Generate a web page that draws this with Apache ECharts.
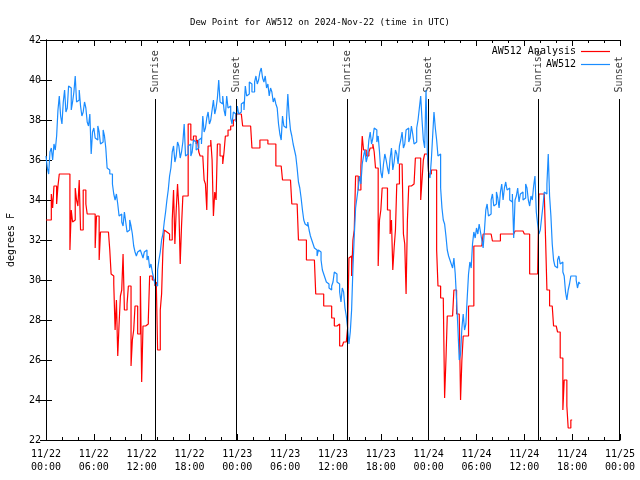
<!DOCTYPE html>
<html><head><meta charset="utf-8">
<script src="https://cdn.jsdelivr.net/npm/echarts@6/dist/echarts.min.js"></script>
<style>html,body{margin:0;padding:0;background:#fff}#c{width:640px;height:480px}</style>
</head><body><div id="c"></div>
<script>
// ---- data (hours since 2024-11-22 00:00 UTC, 10-minute steps) ----
const stepHours = 1 / 6;
const startDay = 22;
const titleText = 'Dew Point for AW512 on 2024-Nov-22 (time in UTC)';
const seriesNames = ['AW512 Analysis', 'AW512'];
// AW512 observations (deg F), one row per hour
const obsDew = [
  36.2,35.6,35.3,36.4,36.6,36.0, 36.8,36.5,37.2,38.5,39.2,38.2, 37.8,38.9,39.5,38.4,38.6,39.7,
  39.6,38.5,38.9,39.4,40.2,38.9, 39.0,39.5,38.7,38.2,38.4,38.9, 38.6,37.9,37.7,38.3,36.3,37.4,
  37.6,37.1,37.0,37.7,37.4,36.8, 36.9,37.5,37.2,36.6,35.6,35.5, 35.3,35.3,34.8,34.3,34.0,34.3,
  33.8,33.2,33.3,32.9,32.7,33.4, 32.9,32.4,32.5,33.0,32.7,32.3, 31.7,31.4,31.2,31.4,31.5,31.6,
  31.3,31.1,31.4,31.5,31.0,31.2, 30.6,30.8,30.4,30.1,29.8,29.7, 30.5,31.0,31.4,32.0,32.3,32.9,
  33.4,34.0,34.5,35.2,35.6,36.4, 36.7,35.9,36.2,36.9,36.7,36.1, 36.4,36.9,37.8,36.2,36.3,36.7,
  36.8,36.2,36.4,37.0,36.9,36.5, 36.6,37.0,37.1,36.8,38.2,37.4, 37.6,38.1,38.4,37.8,38.0,38.5,
  39.0,38.3,38.6,39.1,40.0,38.9, 38.8,39.2,38.5,38.2,39.2,38.6, 38.7,38.1,37.8,38.4,38.3,37.9,
  38.7,38.3,38.4,38.8,38.9,38.5, 39.7,39.2,39.3,39.9,39.8,39.4, 39.4,39.9,40.2,39.8,40.0,40.4,
  40.6,40.1,39.9,40.2,39.6,39.8, 39.2,39.6,39.4,38.9,39.1,38.8, 38.6,37.8,37.3,37.0,38.2,37.7,
  37.6,38.0,39.3,38.2,37.5,37.2, 36.8,36.5,36.2,35.6,34.9,34.6, 34.1,33.5,33.0,32.8,32.7,32.9,
  32.5,32.2,32.0,31.8,31.6,31.5, 31.2,31.5,31.4,31.0,30.5,30.3, 30.1,29.9,29.8,29.6,29.5,29.7,
  29.9,30.4,30.3,29.9,29.8,29.4, 28.9,29.6,29.4,28.6,28.2,27.6, 26.8,27.4,28.5,30.6,32.2,33.6,
  34.1,34.6,35.2,34.8,35.8,36.2, 36.5,35.9,36.2,37.0,37.4,36.8, 37.1,37.6,37.5,36.9,37.2,36.4,
  35.4,35.1,35.8,36.3,36.0,35.6, 35.3,36.1,36.6,35.5,35.9,36.5, 36.3,35.8,36.7,37.0,37.4,36.6,
  36.8,37.5,37.6,36.9,37.1,37.7, 37.3,36.8,36.9,37.6,38.0,38.6, 39.2,38.0,37.0,36.6,39.5,36.4,
  35.3,35.1,36.0,37.2,38.4,37.6, 37.0,36.2,36.3,34.6,33.6,33.0, 32.8,32.2,31.5,31.2,31.0,30.8,
  30.6,31.1,30.3,29.0,27.6,26.0, 26.3,27.6,28.3,27.5,27.8,29.1, 30.3,30.9,30.6,31.8,32.4,32.1,
  32.6,32.3,32.8,32.4,32.0,31.6, 32.5,33.5,33.8,33.2,33.3,34.0, 34.3,33.7,33.8,34.4,34.1,33.6,
  34.4,34.8,34.0,34.6,34.9,34.5, 34.6,34.0,33.9,34.3,32.1,34.0, 34.2,34.6,33.9,34.3,34.4,34.0,
  34.1,34.8,34.6,34.0,33.7,34.2, 34.0,34.7,35.2,33.4,32.8,32.3, 32.5,33.1,33.7,34.4,34.3,34.8,
  36.3,34.2,33.2,31.8,31.0,30.7, 30.6,31.0,31.2,30.8,30.9,30.4, 30.2,29.4,29.0,29.5,29.8,30.2,
  30.2,30.2,30.2,30.0,29.6,29.9, 29.8
];
// AW512 Analysis (deg F), one row per hour
const anaDew = [
  33.0,33.0,33.0,33.0,34.3,33.6, 34.7,34.7,33.8,34.7,35.3,35.3, 35.3,35.3,35.3,35.3,35.3,35.3,
  31.5,33.5,32.9,33.0,34.6,34.0, 33.7,35.0,32.5,32.5,34.5,34.5, 33.8,33.3,33.3,33.3,33.3,33.3,
  33.3,31.6,33.2,33.2,31.0,32.4, 32.4,32.4,32.4,32.5,32.4,32.4, 31.5,30.3,30.2,29.8,27.5,29.0,
  26.2,27.8,29.2,29.5,31.3,28.5, 28.5,28.8,29.7,29.7,25.7,27.0, 27.5,28.7,28.7,27.3,27.3,30.2,
  24.9,27.7,27.7,27.7,27.8,28.0, 30.2,30.2,30.0,30.0,29.7,29.9, 26.5,26.5,28.5,29.3,31.5,32.5,
  32.4,32.3,32.3,32.0,32.0,33.0, 34.5,31.8,33.5,34.8,33.6,30.8, 32.7,34.2,34.2,34.2,34.2,37.8,
  37.8,37.0,37.0,37.2,37.2,36.8, 37.0,36.4,36.2,36.2,36.3,35.0, 34.8,33.5,36.7,36.7,37.0,36.0,
  33.2,34.4,34.0,36.8,36.8,36.2, 36.2,35.8,36.4,37.2,37.2,37.5, 37.5,37.7,37.7,38.0,38.0,38.3,
  38.3,38.3,38.3,38.3,37.7,37.7, 37.7,37.7,37.7,37.7,37.7,36.6, 36.6,36.6,36.6,36.6,36.6,37.0,
  37.0,37.0,37.0,37.0,37.0,36.8, 36.8,36.8,36.8,36.8,36.8,35.7, 35.7,35.7,35.7,35.7,35.0,35.0,
  35.0,35.0,35.0,35.0,35.0,33.8, 33.8,33.8,33.8,33.8,32.0,32.0, 32.0,32.0,32.0,32.0,31.0,31.0,
  31.0,31.0,31.0,31.0,31.0,29.3, 29.3,29.3,29.3,29.3,29.3,28.7, 28.7,28.7,28.7,28.7,28.7,28.1,
  28.1,27.7,27.7,27.7,27.8,26.7, 26.7,26.7,26.9,26.9,26.9,27.6, 31.1,31.2,30.2,32.0,32.5,35.2,
  35.2,34.5,34.5,35.7,37.2,36.5, 36.5,36.2,36.2,36.4,36.6,36.6, 36.8,36.4,35.6,35.6,30.7,33.0,
  33.5,34.6,34.6,34.6,34.6,33.5, 33.5,32.3,33.0,30.5,31.6,32.5, 34.8,34.8,35.8,35.8,35.8,32.3,
  31.8,29.3,33.0,34.7,34.7,34.8, 34.8,34.8,36.1,36.1,36.1,36.1, 34.0,35.0,36.0,36.3,36.3,36.3,
  35.3,35.3,35.5,35.5,35.5,35.5, 31.5,29.7,29.7,29.1,29.1,29.1, 24.1,26.0,28.2,28.2,28.2,28.2,
  28.2,29.5,29.5,28.3,28.3,28.3, 24.0,26.0,27.2,27.2,27.2,27.2, 28.7,28.7,28.7,28.7,31.7,31.7,
  31.7,31.7,31.7,31.7,31.7,32.3, 32.3,32.3,32.3,32.3,32.3,32.3, 31.95,31.95,31.95,31.95,31.95,31.95,
  32.3,32.3,32.3,32.3,32.3,32.3, 32.3,32.3,32.3,32.3,32.3,32.45, 32.45,32.45,32.45,32.45,32.45,32.45,
  32.3,32.3,32.3,32.3,30.3,30.3, 30.3,30.3,30.3,30.3,30.3,34.3, 34.3,34.3,34.3,34.3,32.0,29.5,
  29.5,28.7,28.7,28.7,27.7,27.7, 27.7,27.4,27.4,26.1,26.1,23.5, 25.0,25.0,23.7,22.6,22.6,23.0,
  23.0
];
// Sunrise / sunset times (hours)
const eventHours = [13.72, 23.92, 37.8, 48.0, 61.75, 71.9];
const eventNames = ['Sunrise', 'Sunset', 'Sunrise', 'Sunset', 'Sunrise', 'Sunset'];
const eventLineTop = 39.05;
const eventLabelBase = 39.38;

// ---- chart ----
const FONT = 'DejaVu Sans Mono';
const obsData = obsDew.map((v, i) => [i * stepHours, v]);
const anaData = anaDew.map((v, i) => [i * stepHours, v]);
function xLabel(h) {
  const d = startDay + Math.floor(h / 24);
  const hh = h % 24;
  return '11/' + d + '\n' + String(hh).padStart(2, '0') + ':00';
}
const tickCommon = {
  axisLine: { show: true, lineStyle: { color: '#000', width: 1 } },
  axisTick: { show: true, inside: true, length: 6, lineStyle: { color: '#000', width: 1 } },
  splitLine: { show: false }
};
const chart = echarts.init(document.getElementById('c'), null, { renderer: 'canvas' });
chart.setOption({
  animation: false,
  backgroundColor: '#fff',
  textStyle: { fontFamily: FONT, color: '#000' },
  title: {
    text: titleText, left: 'center', top: 13,
    textStyle: { fontFamily: FONT, fontSize: 9, fontWeight: 'normal', color: '#000' }
  },
  legend: [
    { data: [seriesNames[0]], right: 30, top: 46.5, padding: 0, align: 'right', icon: 'rect', itemWidth: 29, itemHeight: 1.2,
      textStyle: { fontFamily: FONT, fontSize: 10, color: '#000' }, selectedMode: false },
    { data: [seriesNames[1]], right: 30, top: 59.5, padding: 0, align: 'right', icon: 'rect', itemWidth: 29, itemHeight: 1.2,
      textStyle: { fontFamily: FONT, fontSize: 10, color: '#000' }, selectedMode: false }
  ],
  grid: { left: 46, right: 20, top: 40, bottom: 40, containLabel: false, outerBoundsMode: 'none' },
  xAxis: [
    Object.assign({}, tickCommon, {
      type: 'value', min: 0, max: 72, interval: 6, position: 'bottom',
      minorTick: { show: true, splitNumber: 3, length: 3, lineStyle: { color: '#000' } },
      axisLabel: { formatter: xLabel, fontFamily: FONT, fontSize: 10, color: '#000', margin: 8, lineHeight: 13 }
    }),
    Object.assign({}, tickCommon, {
      type: 'value', min: 0, max: 72, interval: 6, position: 'top',
      minorTick: { show: true, splitNumber: 3, length: 3, lineStyle: { color: '#000' } },
      axisLabel: { show: false }
    })
  ],
  yAxis: [
    Object.assign({}, tickCommon, {
      type: 'value', min: 22, max: 42, interval: 2, position: 'left',
      axisLabel: { fontFamily: FONT, fontSize: 10, color: '#000', margin: 5 },
      name: 'degrees F', nameLocation: 'middle', nameGap: 30, nameRotate: 90,
      nameTextStyle: { fontFamily: FONT, fontSize: 10, color: '#000' }
    }),
    Object.assign({}, tickCommon, {
      type: 'value', min: 22, max: 42, interval: 2, position: 'right',
      axisLabel: { show: false }
    })
  ],
  series: [
    {
      type: 'scatter', name: 'events', silent: true, symbolSize: 0,
      data: eventHours.map((h, i) => [h, eventLabelBase, eventNames[i]]),
      label: {
        show: true, formatter: p => p.value[2], rotate: 90, position: [0, 0],
        align: 'left', verticalAlign: 'middle', fontFamily: FONT, fontSize: 10, color: '#000'
      },
      markLine: {
        silent: true, symbol: 'none', label: { show: false },
        lineStyle: { color: '#000', width: 1, type: 'solid' },
        data: eventHours.map(h => [{ coord: [h, 22] }, { coord: [h, eventLineTop] }])
      }
    },
    {
      type: 'line', name: seriesNames[0], data: anaData, step: 'end', showSymbol: false,
      color: '#ff0000', lineStyle: { color: '#ff0000', width: 1.2 }
    },
    {
      type: 'line', name: seriesNames[1], data: obsData, step: 'end', showSymbol: false,
      color: '#1a8cff', lineStyle: { color: '#1a8cff', width: 1.2 }
    }
  ]
});
</script></body></html>
